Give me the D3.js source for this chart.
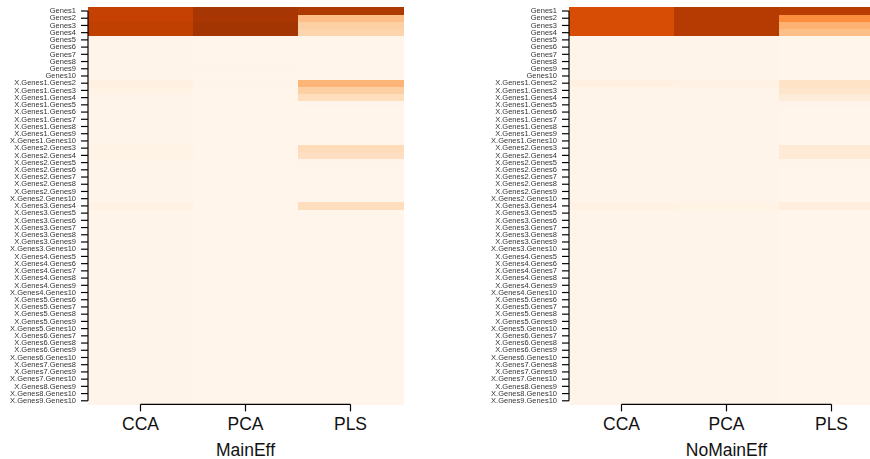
<!DOCTYPE html>
<html>
<head>
<meta charset="utf-8">
<script src="https://cdn.jsdelivr.net/npm/d3@7"></script>
<style>
  html, body { margin: 0; padding: 0; background: #fff; }
  svg { display: block; }
  text { font-family: "Liberation Sans", Arial, Helvetica, sans-serif; }
  .term-axis { opacity: 0.995; }
</style>
</head>
<body>
<svg id="chart" width="870" height="459"></svg>
<script>
// Row labels: main effects followed by pairwise interaction terms
const rowLabels = [
  "Genes1","Genes2","Genes3","Genes4","Genes5","Genes6","Genes7","Genes8","Genes9","Genes10",
  "X.Genes1.Genes2","X.Genes1.Genes3","X.Genes1.Genes4","X.Genes1.Genes5","X.Genes1.Genes6",
  "X.Genes1.Genes7","X.Genes1.Genes8","X.Genes1.Genes9","X.Genes1.Genes10",
  "X.Genes2.Genes3","X.Genes2.Genes4","X.Genes2.Genes5","X.Genes2.Genes6","X.Genes2.Genes7",
  "X.Genes2.Genes8","X.Genes2.Genes9","X.Genes2.Genes10",
  "X.Genes3.Genes4","X.Genes3.Genes5","X.Genes3.Genes6","X.Genes3.Genes7","X.Genes3.Genes8",
  "X.Genes3.Genes9","X.Genes3.Genes10",
  "X.Genes4.Genes5","X.Genes4.Genes6","X.Genes4.Genes7","X.Genes4.Genes8","X.Genes4.Genes9",
  "X.Genes4.Genes10",
  "X.Genes5.Genes6","X.Genes5.Genes7","X.Genes5.Genes8","X.Genes5.Genes9","X.Genes5.Genes10",
  "X.Genes6.Genes7","X.Genes6.Genes8","X.Genes6.Genes9","X.Genes6.Genes10",
  "X.Genes7.Genes8","X.Genes7.Genes9","X.Genes7.Genes10",
  "X.Genes8.Genes9","X.Genes8.Genes10",
  "X.Genes9.Genes10"
];

const methods = ["CCA", "PCA", "PLS"];

// Selection intensity per term (0..1), MainEff scenario
const mainEffCCA = [
  0.80,0.80,0.81,0.81,0.01,0.01,0.01,0.01,0.01,0.01,
  0.04,0.02,0.01,0.01,0.01,0.01,0.01,0.01,0.01,
  0.02,0.02,0.01,0.01,0.01,0.01,0.01,0.01,
  0.03,0.01,0.01,0.01,0.01,0.01,0.01,
  0.01,0.01,0.01,0.01,0.01,0.01,
  0.01,0.01,0.01,0.01,0.01,
  0.01,0.01,0.01,0.01,
  0.01,0.01,0.01,
  0.01,0.01,
  0.01
];
const mainEffPCA = [
  0.88,0.87,0.89,0.89,0.00,0.00,0.00,0.00,0.01,0.00,
  0.01,0.00,0.00,0.00,0.00,0.00,0.00,0.00,0.00,
  0.00,0.00,0.00,0.00,0.00,0.00,0.00,0.00,
  0.00,0.00,0.00,0.00,0.00,0.00,0.00,
  0.00,0.00,0.00,0.00,0.00,0.00,
  0.00,0.00,0.00,0.00,0.00,
  0.00,0.00,0.00,0.00,
  0.00,0.00,0.00,
  0.00,0.00,
  0.00
];
const mainEffPLS = [
  0.86,0.31,0.24,0.22,0.00,0.00,0.00,0.00,0.00,0.00,
  0.35,0.24,0.17,0.01,0.00,0.00,0.00,0.00,0.00,
  0.18,0.16,0.01,0.00,0.00,0.00,0.00,0.00,
  0.17,0.00,0.00,0.00,0.00,0.00,0.00,
  0.00,0.00,0.00,0.00,0.00,0.00,
  0.00,0.00,0.00,0.00,0.00,
  0.00,0.00,0.00,0.00,
  0.00,0.00,0.00,
  0.00,0.00,
  0.00
];

// Selection intensity per term (0..1), NoMainEff scenario
const noMainEffCCA = [
  0.74,0.74,0.74,0.74,0.01,0.01,0.01,0.01,0.01,0.01,
  0.04,0.01,0.01,0.01,0.01,0.01,0.01,0.01,0.01,
  0.01,0.01,0.01,0.01,0.01,0.01,0.01,0.01,
  0.03,0.01,0.01,0.01,0.01,0.01,0.01,
  0.01,0.01,0.01,0.01,0.01,0.01,
  0.01,0.01,0.01,0.01,0.01,
  0.01,0.01,0.01,0.01,
  0.01,0.01,0.01,
  0.01,0.01,
  0.01
];
const noMainEffPCA = [
  0.84,0.84,0.84,0.84,0.01,0.01,0.01,0.01,0.01,0.01,
  0.03,0.01,0.01,0.01,0.01,0.01,0.01,0.01,0.01,
  0.01,0.01,0.01,0.01,0.01,0.01,0.01,0.01,
  0.02,0.01,0.01,0.01,0.01,0.01,0.01,
  0.01,0.01,0.01,0.01,0.01,0.01,
  0.01,0.01,0.01,0.01,0.01,
  0.01,0.01,0.01,0.01,
  0.01,0.01,0.01,
  0.01,0.01,
  0.01
];
const noMainEffPLS = [
  0.83,0.50,0.36,0.31,0.00,0.00,0.00,0.00,0.00,0.00,
  0.14,0.12,0.07,0.01,0.00,0.00,0.00,0.00,0.00,
  0.09,0.09,0.01,0.00,0.00,0.00,0.00,0.00,
  0.06,0.00,0.00,0.00,0.00,0.00,0.00,
  0.00,0.00,0.00,0.00,0.00,0.00,
  0.00,0.00,0.00,0.00,0.00,
  0.00,0.00,0.00,0.00,
  0.00,0.00,0.00,
  0.00,0.00,
  0.00
];

const panels = [
  { title: "MainEff",   series: [mainEffCCA, mainEffPCA, mainEffPLS],       left: 88 },
  { title: "NoMainEff", series: [noMainEffCCA, noMainEffPCA, noMainEffPLS], left: 569 }
];

const svg = d3.select("#chart");
const color = d3.scaleSequential(d3.interpolateOranges).domain([0, 1]);

const plotTop = 7.4, plotBottom = 404.4, panelWidth = 315;

panels.forEach(p => {
  const g = svg.append("g");
  const x = d3.scaleBand().domain(methods).range([p.left, p.left + panelWidth]).padding(0);
  const y = d3.scaleBand().domain(rowLabels).range([plotTop, plotBottom]).padding(0);

  // cells
  const cells = [];
  methods.forEach((m, j) => {
    rowLabels.forEach((r, i) => cells.push({ m, r, v: p.series[j][i] }));
  });
  g.selectAll("rect.cell")
    .data(cells)
    .join("rect")
    .attr("class", "cell")
    .attr("x", d => x(d.m))
    .attr("y", d => y(d.r))
    .attr("width", x.bandwidth() + 0.5)
    .attr("height", y.bandwidth() + 0.5)
    .attr("fill", d => color(d.v))
    .attr("shape-rendering", "crispEdges");

  // y axis (terms)
  const yAxis = d3.axisLeft(y).tickSize(7).tickPadding(5);
  const ya = g.append("g")
    .attr("class", "term-axis")
    .attr("transform", `translate(${p.left},0)`)
    .call(yAxis);
  ya.select(".domain")
    .attr("d", `M0,${y(rowLabels[0]) + y.bandwidth() / 2}V${y(rowLabels[rowLabels.length - 1]) + y.bandwidth() / 2}`)
    .attr("stroke", "#000").attr("stroke-width", 1.2);
  ya.selectAll(".tick line").attr("stroke", "#000").attr("stroke-width", 1.2);
  ya.selectAll(".tick text")
    .attr("font-size", 6.9)
    .attr("fill", "#333")
    .attr("font-family", "'Liberation Sans', Arial, sans-serif")
    .each(function () {
      // widen the small labels slightly without increasing their height
      const w = this.getComputedTextLength();
      d3.select(this).attr("textLength", w * 1.09).attr("lengthAdjust", "spacingAndGlyphs");
    });

  // x axis (methods)
  const xAxis = d3.axisBottom(x).tickSize(7).tickPadding(6);
  const xa = g.append("g").attr("transform", `translate(0,${plotBottom})`).call(xAxis);
  xa.select(".domain")
    .attr("d", `M${x(methods[0]) + x.bandwidth() / 2},0H${x(methods[2]) + x.bandwidth() / 2}`)
    .attr("stroke", "#000").attr("stroke-width", 1.2);
  xa.selectAll(".tick line").attr("stroke", "#000").attr("stroke-width", 1.2);
  xa.selectAll(".tick text")
    .attr("font-size", 17.5)
    .attr("fill", "#111")
    .attr("font-family", "'Liberation Sans', Arial, sans-serif");

  // panel title below the axis
  g.append("text")
    .attr("x", p.left + panelWidth / 2)
    .attr("y", 456)
    .attr("text-anchor", "middle")
    .attr("font-size", 17.5)
    .attr("fill", "#111")
    .text(p.title);
});
</script>
</body>
</html>
